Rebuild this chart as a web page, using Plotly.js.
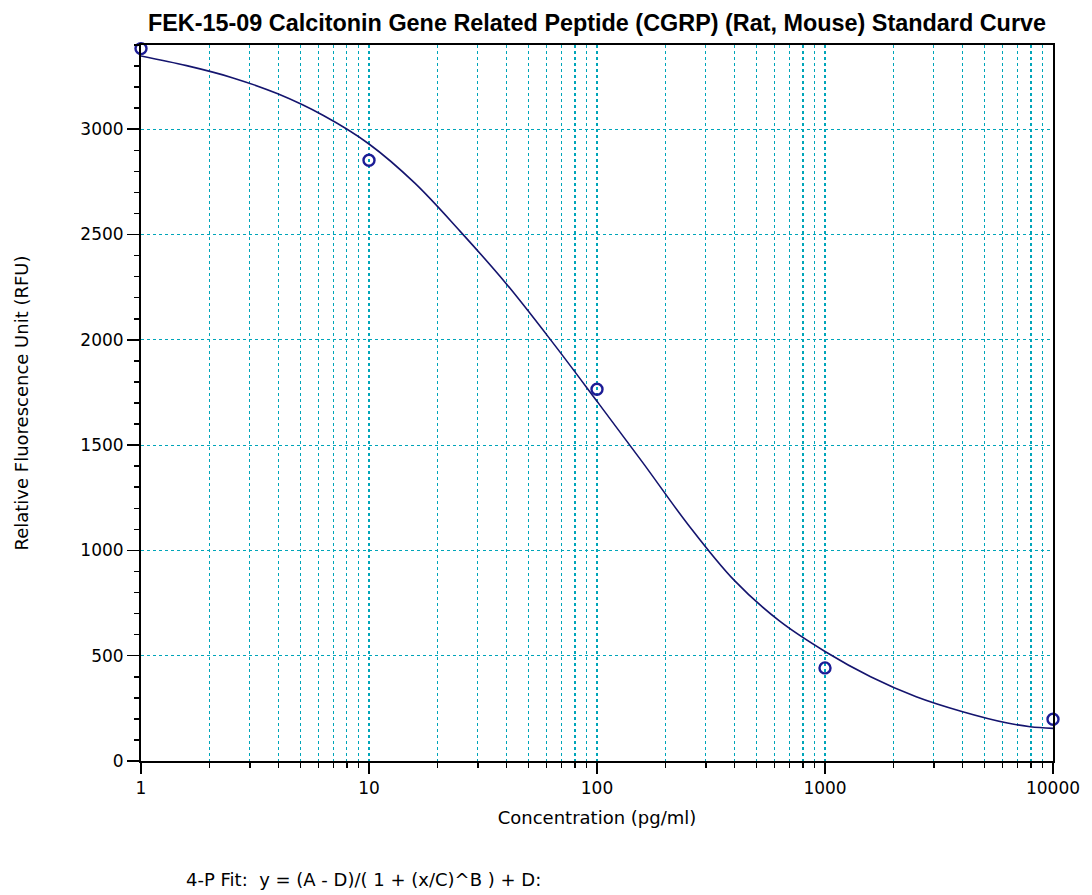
<!DOCTYPE html>
<html><head><meta charset="utf-8">
<script src="https://cdn.plot.ly/plotly-3.0.1.min.js"></script>
<style>body{margin:0;background:#fff}</style>
</head><body><div id="chart" style="width:1092px;height:895px"></div>
<script>
// Standards (measured points)
const stdConc = [1, 10, 100, 1000, 10000];
const stdRFU = [3383, 2853, 1765, 442, 198];
// 4-P fit curve
const fitConc = [1, 1.585, 2.512, 3.981, 6.31, 10, 15.85, 25.12, 39.81, 63.1, 100, 158.5, 251.2, 398.1, 631, 1000, 1585, 2512, 3981, 6310, 7943, 10000];
const fitRFU = [3348, 3302, 3245, 3168, 3065, 2930, 2745, 2515, 2269, 1995, 1708, 1418, 1122, 860, 665, 520, 400, 305, 235, 180, 163, 155];
// Axis ticks
const xTickVals = [1, 10, 100, 1000, 10000];
const xTickText = ['1', '10', '100', '1000', '10000'];
const yTickVals = [0, 500, 1000, 1500, 2000, 2500, 3000];
const yTickText = ['0', '500', '1000', '1500', '2000', '2500', '3000'];
const minorMultipliers = [2, 3, 4, 5, 6, 7, 8, 9];
const decades = [1, 10, 100, 1000];

const xMinor = [];
decades.forEach(d => minorMultipliers.forEach(m => xMinor.push(m * d)));

const gridCol = 'rgb(0,165,185)';
const navy = '#14146e';
const tickFont = {family: 'DejaVu Sans, Arial, sans-serif', size: 17, color: '#000'};
const titleFont = {family: 'DejaVu Sans, Arial, sans-serif', size: 18, color: '#000'};

const traces = [
  {x: fitConc, y: fitRFU, type: 'scatter', mode: 'lines',
   line: {color: navy, width: 1.6, shape: 'spline', smoothing: 1}, hoverinfo: 'skip', showlegend: false},
  {x: stdConc, y: stdRFU, type: 'scatter', mode: 'markers', cliponaxis: false,
   marker: {symbol: 'circle-open', size: 11, color: '#1c1c96', line: {width: 2.4, color: '#1c1c96'}}, showlegend: false}
];

const layout = {
  width: 1092, height: 895,
  margin: {l: 141, r: 39, t: 45, b: 134},
  paper_bgcolor: '#fff', plot_bgcolor: '#fff',
  title: {text: 'FEK-15-09 Calcitonin Gene Related Peptide (CGRP) (Rat, Mouse) Standard Curve',
          font: {family: 'Liberation Sans, Arial, sans-serif', size: 23.4, weight: 'bold', color: '#000'},
          x: 0.5, xref: 'paper', xanchor: 'center', y: 0.975, yanchor: 'middle'},
  xaxis: {
    type: 'log', range: [0, 4], tickmode: 'array', tickvals: xTickVals, ticktext: xTickText,
    ticks: 'outside', ticklen: 11, tickwidth: 1.5, tickcolor: '#000',
    showline: true, linecolor: '#000', linewidth: 2, mirror: true,
    showgrid: true, gridcolor: gridCol, griddash: 'dot', gridwidth: 1.2,
    zeroline: false, tickfont: tickFont,
    minor: {tickmode: 'array', tickvals: xMinor, ticks: 'outside', ticklen: 5, tickwidth: 1.5, tickcolor: '#000',
            showgrid: true, gridcolor: gridCol, griddash: 'dot', gridwidth: 1.2},
    title: {text: 'Concentration (pg/ml)', font: titleFont, standoff: 14}
  },
  yaxis: {
    range: [0, 3400], tickmode: 'array', tickvals: yTickVals, ticktext: yTickText,
    ticks: 'outside', ticklen: 12, tickwidth: 1.5, tickcolor: '#000',
    showline: true, linecolor: '#000', linewidth: 2, mirror: true,
    showgrid: true, gridcolor: gridCol, griddash: 'dot', gridwidth: 1.2,
    zeroline: false, tickfont: tickFont,
    minor: {dtick: 100, tick0: 0, ticks: 'outside', ticklen: 5, tickwidth: 1.5, tickcolor: '#000', showgrid: false},
    title: {text: 'Relative Fluorescence Unit (RFU)', font: titleFont, standoff: 47}
  },
  annotations: [
    {text: '4-P Fit:  y = (A - D)/( 1 + (x/C)^B ) + D:', xref: 'paper', yref: 'paper',
     x: 0.0471, y: -0.166, xanchor: 'left', yanchor: 'middle', showarrow: false, font: titleFont}
  ]
};

Plotly.newPlot('chart', traces, layout, {displayModeBar: false, staticPlot: true});
</script>
</body></html>
